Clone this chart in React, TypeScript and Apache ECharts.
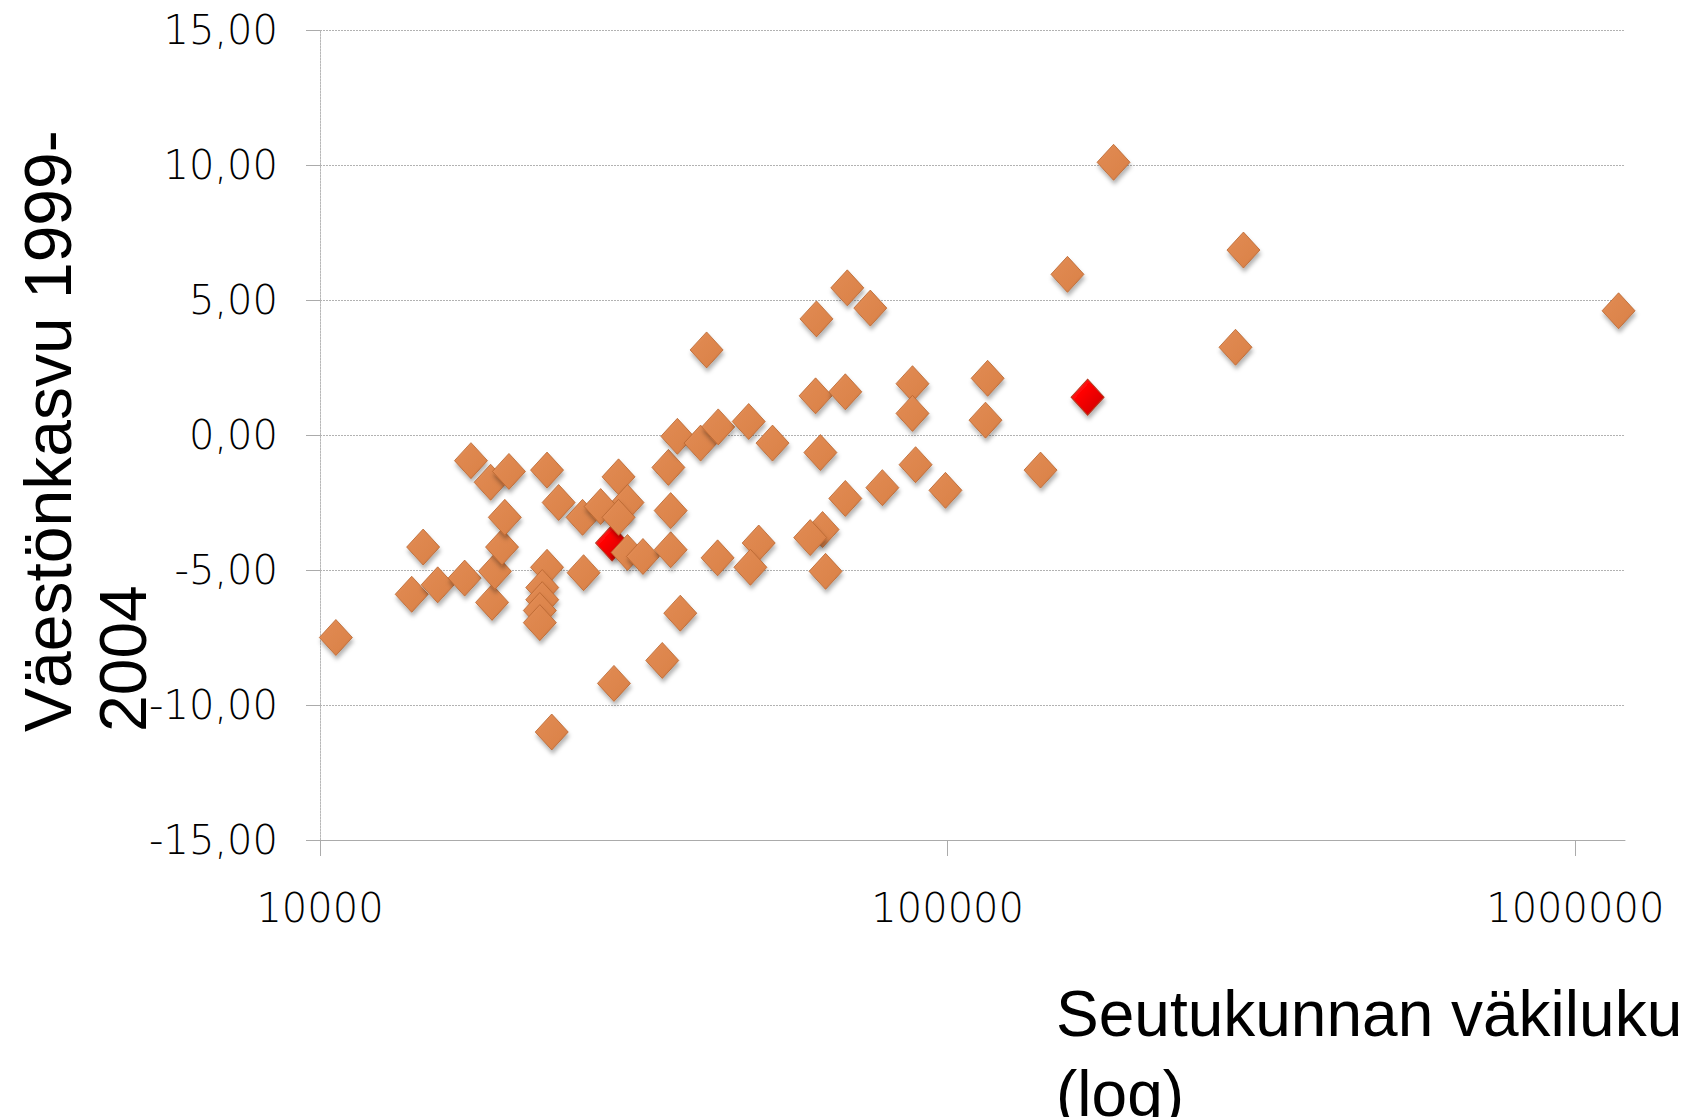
import React, { useEffect, useRef } from 'react';
import * as echarts from 'echarts';

// Seutukunnan väkiluku (population, log axis)
const population = [
  10600, 14000, 14600, 15400, 17000, 17400, 18700, 20000, 18800, 19000,
  19500, 19700, 23000, 23000, 22600, 22600, 22400, 22400, 23400, 24000,
  26200, 26300, 29400, 29900, 30900, 28000, 29900, 30900, 32700, 36200,
  36200, 35900, 37500, 35100, 37100, 40400, 43100, 48200, 52600, 41300,
  43000, 50000, 48500, 61800, 61600, 68700, 69200, 75300, 62700, 68700,
  78700, 63200, 60400, 63900, 87900, 87900, 115800, 114900, 88900, 99200,
  140600, 155200, 183800, 296000, 287500, 1172000,
];
// Väestönkasvu 1999-2004 (%)
const growth = [
  -7.5, -5.9, -4.15, -5.55, -5.3, -0.95, -1.75, -1.35, -6.2, -5.05,
  -4.15, -3.05, -1.3, -4.9, -5.65, -6.1, -6.5, -6.95, -11.0, -2.5,
  -3.05, -5.1, -9.2, -1.55, -2.5, -2.65, -3.05, -4.35, -4.5, -4.25,
  -2.8, -1.2, -6.6, -8.35, -0.05, -0.3, 0.3, 0.5, -0.3, 3.15,
  -4.55, -4.0, -4.9, 4.3, 1.45, 1.6, 5.45, 4.7, -0.65, -2.35,
  -1.95, -3.5, -3.8, -5.05, 1.9, 0.8, 2.1, 0.55, -1.1, -2.05,
  -1.3, 5.95, 10.1, 6.85, 3.25, 4.6,
];
// highlighted regions (red)
const redPopulation = [29200, 167100];
const redGrowth = [-4.0, 1.4];

const xTicks = [10000, 100000, 1000000];
const yTitle = 'Väestönkasvu 1999-\n2004';
const xTitle = 'Seutukunnan väkiluku\n(log)';

export default function App() {
  const ref = useRef<HTMLDivElement>(null);
  useEffect(() => {
    if (!ref.current) return;
    const chart = echarts.init(ref.current, null, { renderer: 'svg' });
    const fmtY = (v: number) => v.toFixed(2).replace('.', ',');
    const labelFont = {
      fontSize: 40,
      fontFamily: 'DejaVu Sans',
      fontWeight: 300 as any,
      color: '#000',
    };
    const orangeFill = new echarts.graphic.LinearGradient(0, 0, 1, 1, [
      { offset: 0, color: '#F0A06A' },
      { offset: 0.3, color: '#DF8850' },
      { offset: 0.7, color: '#DC844B' },
      { offset: 1, color: '#C0652C' },
    ]);
    const redFill = new echarts.graphic.LinearGradient(0, 0, 1, 1, [
      { offset: 0, color: '#FF5050' },
      { offset: 0.35, color: '#FF0000' },
      { offset: 1, color: '#C80000' },
    ]);
    const shadow = {
      shadowBlur: 4,
      shadowColor: 'rgba(0,0,0,0.3)',
      shadowOffsetX: 1,
      shadowOffsetY: 4,
    };
    chart.setOption({
      animation: false,
      backgroundColor: '#ffffff',
      grid: { left: 320, top: 30, right: 63, bottom: 277, containLabel: false },
      xAxis: {
        type: 'log',
        logBase: 10,
        min: 10000,
        max: 1200000,
        axisLine: { show: true, onZero: false, lineStyle: { color: '#ababab', width: 1 } },
        axisTick: {
          show: true,
          length: 16,
          customValues: xTicks,
          lineStyle: { color: '#ababab', width: 1 },
        },
        minorTick: { show: false },
        axisLabel: {
          ...labelFont,
          customValues: xTicks,
          margin: 48,
          formatter: (v: number) => String(Math.round(v)),
        },
        splitLine: { show: false },
      },
      yAxis: {
        type: 'value',
        min: -15,
        max: 15,
        interval: 5,
        axisLine: { show: true, onZero: false, lineStyle: { color: '#b8b8b8', width: 1, type: [2, 1] } },
        axisTick: { show: true, length: 14, lineStyle: { color: '#ababab', width: 1 } },
        axisLabel: { ...labelFont, margin: 42, formatter: fmtY },
        splitLine: { show: true, lineStyle: { color: '#b2b2b2', width: 1, type: [2, 1] } },
      },
      series: [
        {
          type: 'scatter',
          symbol: 'diamond',
          symbolSize: [33, 36],
          data: redPopulation.map((p, i) => [p, redGrowth[i]]),
          itemStyle: { color: redFill, opacity: 1, borderColor: '#B33A20', borderWidth: 1, ...shadow },
        },
        {
          type: 'scatter',
          symbol: 'diamond',
          symbolSize: [33, 36],
          data: population.map((p, i) => [p, growth[i]]),
          itemStyle: { color: orangeFill, opacity: 1, borderColor: '#B8642E', borderWidth: 0.8, ...shadow },
        },
      ],
      graphic: [
        {
          type: 'text',
          x: 10,
          y: 732,
          rotation: Math.PI / 2,
          style: {
            text: yTitle,
            fontSize: 66,
            fontFamily: 'Liberation Sans',
            fill: '#000',
            align: 'left',
            verticalAlign: 'top',
            lineHeight: 75,
          },
        },
        {
          type: 'text',
          x: 1056,
          y: 974,
          style: {
            text: xTitle,
            fontSize: 64,
            fontFamily: 'Liberation Sans',
            fill: '#000',
            align: 'left',
            verticalAlign: 'top',
            lineHeight: 80,
          },
        },
      ],
    });
    return () => chart.dispose();
  }, []);
  return (
    <div
      ref={ref}
      style={{ position: 'fixed', left: 0, top: 0, width: 1688, height: 1117, background: '#fff' }}
    />
  );
}
